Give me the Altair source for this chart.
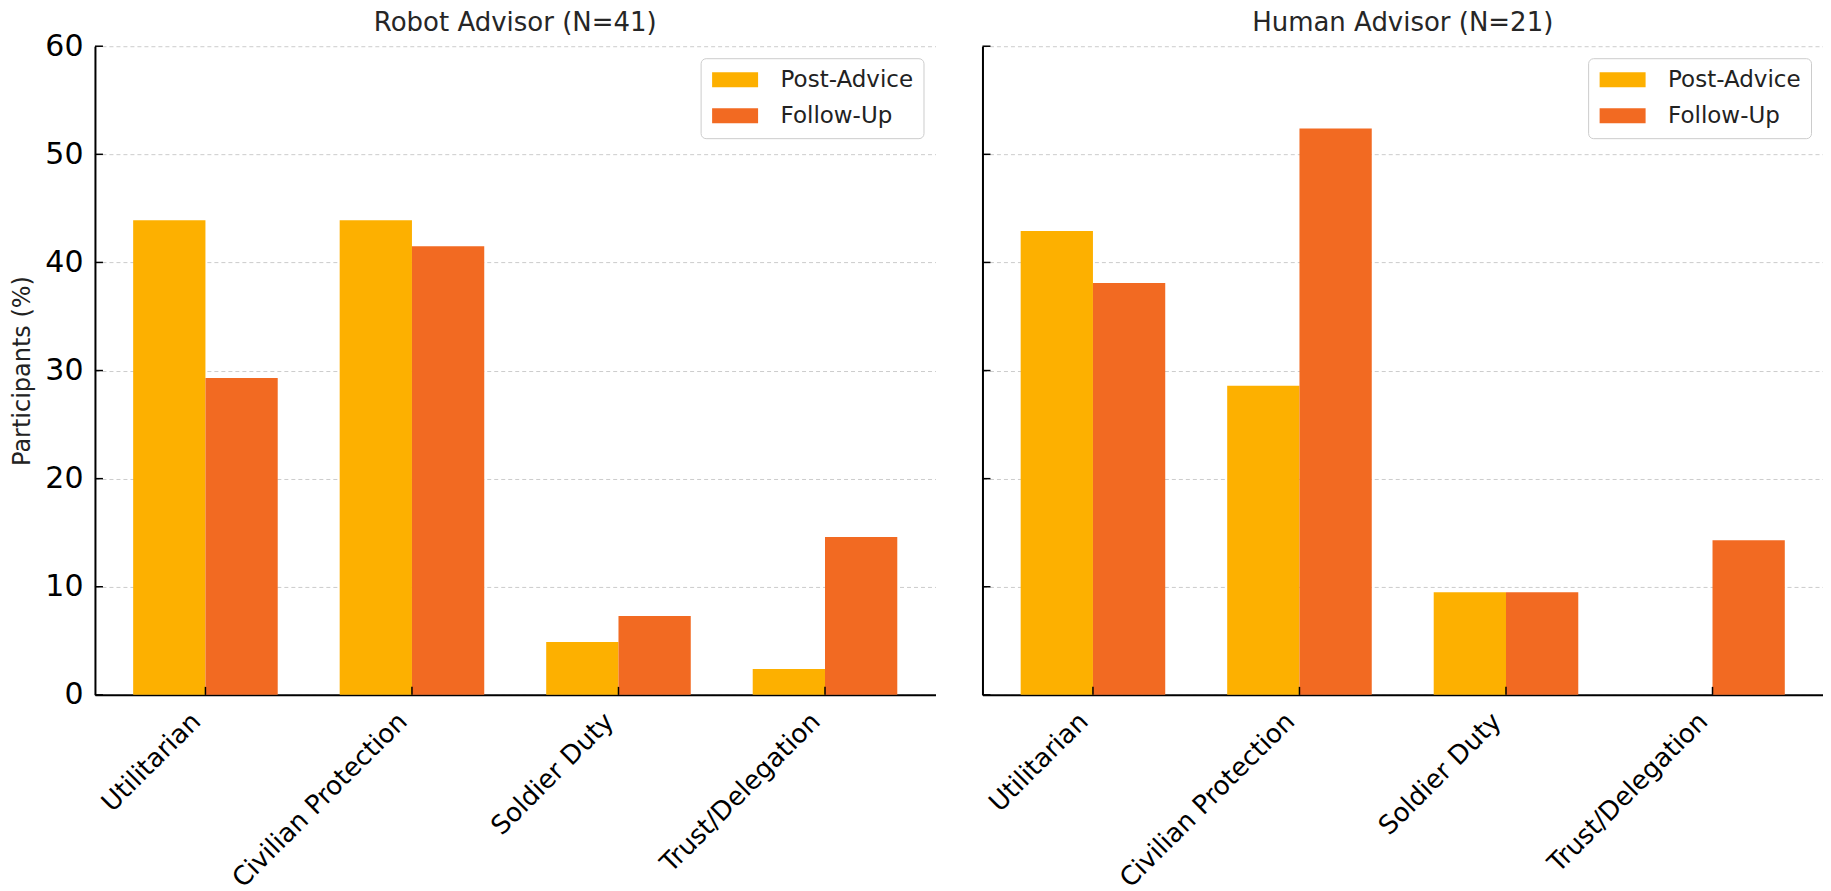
import altair as alt
import pandas as pd

categories = ["Utilitarian", "Civilian Protection", "Soldier Duty", "Trust/Delegation"]
series = ["Post-Advice", "Follow-Up"]
robot_post = [43.9, 43.9, 4.9, 2.4]
robot_follow = [29.3, 41.5, 7.3, 14.6]
human_post = [42.9, 28.6, 9.5, 0.0]
human_follow = [38.1, 52.4, 9.5, 14.3]
panel_titles = ["Robot Advisor (N=41)", "Human Advisor (N=21)"]
y_ticks = [0, 10, 20, 30, 40, 50, 60]
colors = ["#FDB000", "#F26A22"]

W, H = 841, 649
FONT = "DejaVu Sans"


def make_df(post, follow):
    rows = []
    for c, p, f in zip(categories, post, follow):
        rows.append({"cat": c, "series": series[0], "value": p})
        rows.append({"cat": c, "series": series[1], "value": f})
    return pd.DataFrame(rows)


x_scale = alt.Scale(domain=categories, paddingInner=0.3, paddingOuter=0.185)
y_scale = alt.Scale(domain=[0, 60], nice=False)
color_scale = alt.Scale(domain=series, range=colors)

x_axis = alt.Axis(
    title=None,
    labelAngle=-45,
    labelAlign="right",
    labelBaseline="middle",
    labelPadding=22,
    labelOffset=-9,
    labelFontSize=26,
    bandPosition=0.5,
    labelLimit=400,
)


def y_axis(first):
    return alt.Axis(
        values=y_ticks,
        title="Participants (%)" if first else None,
        labels=first,
        labelFontSize=30,
        labelPadding=12,
        titleFontSize=24,
        titleFontWeight="normal",
        titleColor="#222222",
        titleFont=FONT,
        titlePadding=10,
    )


def panel(df, title, first):
    bars = alt.Chart(df).mark_bar().encode(
        x=alt.X("cat:N", scale=x_scale, sort=categories, axis=x_axis),
        xOffset=alt.XOffset(
            "series:N", sort=series, scale=alt.Scale(domain=series, paddingInner=0, paddingOuter=0)
        ),
        y=alt.Y("value:Q", scale=y_scale, axis=y_axis(first)),
        color=alt.Color(
            "series:N",
            scale=color_scale,
            sort=series,
            legend=alt.Legend(
                title=None,
                orient="top-right",
                offset=12,
                labelFontSize=23,
                labelFont=FONT,
                labelColor="#222222",
                symbolType="M-1,-0.75H3.6V0.75H-1Z",
                symbolSize=400,
                symbolStrokeWidth=0,
                symbolOpacity=1,
                labelOffset=47,
                rowPadding=12,
                padding=10,
                strokeColor="#cccccc",
                fillColor="white",
                cornerRadius=5,
                labelLimit=300,
            ),
        ),
    )
    xt = alt.Chart(pd.DataFrame({"cat": categories})).mark_rule(
        color="black", strokeWidth=1.5
    ).encode(
        x=alt.X("cat:N", scale=x_scale, sort=categories, axis=x_axis),
        y=alt.value(H - 8),
        y2=alt.value(H),
    )
    yt = alt.Chart(pd.DataFrame({"value": y_ticks})).mark_rule(
        color="black", strokeWidth=1.5
    ).encode(
        y=alt.Y("value:Q", scale=y_scale, axis=y_axis(first)),
        x=alt.value(0),
        x2=alt.value(8),
    )
    ttl = alt.Chart(pd.DataFrame({"t": [title]})).mark_text(
        fontSize=26, font=FONT, color="#262626", align="center", baseline="alphabetic"
    ).encode(
        x=alt.value(W / 2),
        y=alt.value(-15),
        text="t:N",
    )
    return alt.layer(bars, xt, yt, ttl).properties(width=W, height=H)


p1 = panel(make_df(robot_post, robot_follow), panel_titles[0], True)
p2 = panel(make_df(human_post, human_follow), panel_titles[1], False)

chart = (
    alt.hconcat(p1, p2, spacing=46)
    .resolve_scale(color="independent")
    .properties(padding={"left": 2, "top": 2, "right": 0, "bottom": 0})
    .configure_view(stroke=None)
    .configure_axis(
        domainColor="black",
        domainWidth=2,
        gridColor="#cccccc",
        gridDash=[4, 3],
        gridWidth=1,
        ticks=False,
        tickSize=0,
        labelColor="black",
        labelFont=FONT,
        zindex=1,
    )
)

chart.save("out.html", embed_options={"renderer": "svg", "actions": False})
